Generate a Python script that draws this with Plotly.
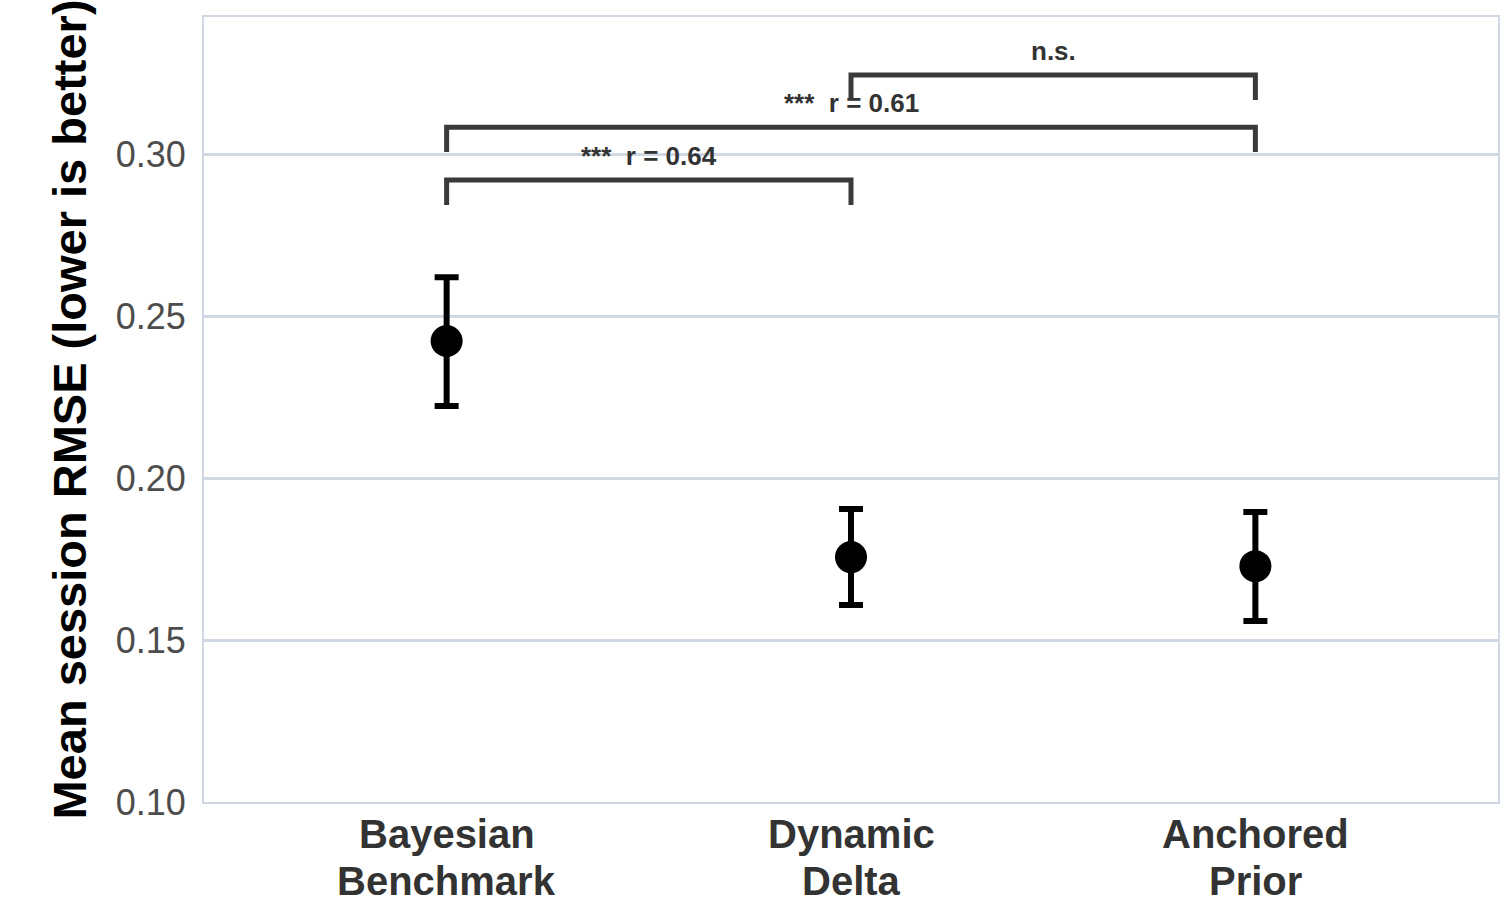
import plotly.graph_objects as go

# ---- data ----
categories = ["Bayesian<br>Benchmark", "Dynamic<br>Delta", "Anchored<br>Prior"]
means = [0.2423, 0.1756, 0.1728]
upper = [0.2620, 0.1904, 0.1895]
lower = [0.2222, 0.1608, 0.1559]

comp_left = [0, 0, 1]
comp_right = [1, 2, 2]
comp_y = [0.2920, 0.3083, 0.3244]
comp_labels = ["***\u00a0\u00a0r = 0.64", "***\u00a0\u00a0r = 0.61", "n.s."]
tick_len = 0.0077
label_offset = 0.0074

y_ticks = [0.10, 0.15, 0.20, 0.25, 0.30]

xs = list(range(len(categories)))
err_plus = [u - m for u, m in zip(upper, means)]
err_minus = [m - l for m, l in zip(means, lower)]

fig = go.Figure()

# brackets
for l, r, y in zip(comp_left, comp_right, comp_y):
    fig.add_trace(go.Scatter(
        x=[l, l, r, r], y=[y - tick_len, y, y, y - tick_len],
        mode="lines", line=dict(color="#3a3a3a", width=5),
        hoverinfo="skip", showlegend=False, cliponaxis=False))

fig.add_trace(go.Scatter(
    x=xs, y=means, mode="markers",
    marker=dict(color="black", size=32),
    error_y=dict(type="data", symmetric=False, array=err_plus, arrayminus=err_minus,
                 color="black", thickness=6, width=12),
    showlegend=False))

for l, r, y, t in zip(comp_left, comp_right, comp_y, comp_labels):
    fig.add_annotation(x=(l + r) / 2, y=y + label_offset, text=t, showarrow=False,
                       xref="x", yref="y", yanchor="middle",
                       font=dict(family="Liberation Sans, Arial, sans-serif", size=26,
                                 color="#333333", weight="bold"))

# category labels (two lines, tighter line spacing than plotly tick labels)
cat_font = dict(family="Liberation Sans, Arial, sans-serif", size=40,
                color="#333333", weight="bold")
for x, cat in zip(xs, categories):
    for i, line in enumerate(cat.split("<br>")):
        fig.add_annotation(x=x, y=0, xref="x", yref="paper", text=line,
                           showarrow=False, yanchor="middle", xanchor="center",
                           yshift=-32 - 47 * i, font=cat_font)

grid_color = "#cfd8e3"
fig.update_layout(
    width=1510, height=907,
    margin=dict(l=204, r=12, t=17, b=105, autoexpand=False),
    paper_bgcolor="white", plot_bgcolor="white",
    showlegend=False,
    xaxis=dict(range=[-0.6, 2.6], tickvals=xs, showticklabels=False,
               showgrid=False, zeroline=False, showline=True, mirror=True,
               linecolor=grid_color, linewidth=2, ticks="", automargin=False),
    yaxis=dict(range=[0.10, 0.3423], tickvals=y_ticks,
               ticktext=[f"{v:.2f}" for v in y_ticks],
               showgrid=True, gridcolor=grid_color, gridwidth=3,
               zeroline=False, showline=True, mirror=True, automargin=False,
               linecolor=grid_color, linewidth=2, ticks="", ticklabelstandoff=9,
               tickfont=dict(family="Liberation Sans, Arial, sans-serif", size=36,
                             color="#4d4d4d"),
               title=dict(text="Mean session RMSE (lower is better)", standoff=14,
                          font=dict(family="Liberation Sans, Arial, sans-serif", size=47,
                                    color="black", weight="bold"))),
)

fig.write_html("out.html", config={"displayModeBar": False},
               post_script="document.body.style.margin='0px';document.body.style.overflow='hidden';")
